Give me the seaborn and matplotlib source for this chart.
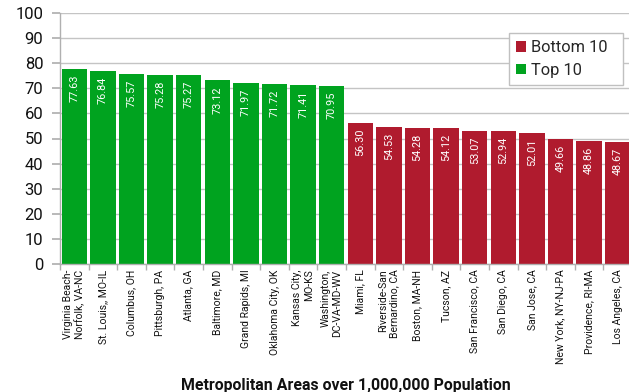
import matplotlib
matplotlib.use("Agg")
import matplotlib.pyplot as plt
import seaborn as sns
import pandas as pd
import numpy as np

# Metro areas ranked by score
metros = [
    "Virginia Beach-\nNorfolk, VA-NC", "St. Louis,, MO-IL", "Columbus, OH",
    "Pittsburgh, PA", "Atlanta, GA", "Baltimore, MD", "Grand Rapids, MI",
    "Oklahoma City, OK", "Kansas City,\nMO-KS", "Washington,\nDC-VA-MD-WV",
    "Miami, FL", "Riverside-San\nBernardino, CA", "Boston, MA-NH", "Tucson, AZ",
    "San Francisco, CA", "San Diego, CA", "San Jose, CA", "New York, NY-NJ-PA",
    "Providence, RI-MA", "Los Angeles, CA",
]
scores = [77.63, 76.84, 75.57, 75.28, 75.27, 73.12, 71.97, 71.72, 71.41, 70.95,
          56.30, 54.53, 54.28, 54.12, 53.07, 52.94, 52.01, 49.66, 48.86, 48.67]
groups = ["Top 10"] * 10 + ["Bottom 10"] * 10
group_order = ["Bottom 10", "Top 10"]
group_colors = ["#b01b2e", "#00a31f"]
y_ticks = list(range(0, 101, 10))

df = pd.DataFrame({"metro": metros, "score": scores, "group": groups})

sns.set_theme(style="white")
plt.rcParams["font.family"] = ["Roboto", "DejaVu Sans"]

fig = plt.figure(figsize=(6.29, 3.92), dpi=100)
ax = fig.add_axes([60 / 629, 1 - 264 / 392, 572 / 629, 251 / 392])

sns.barplot(data=df, x="metro", y="score", hue="group", hue_order=group_order,
            palette=group_colors, dodge=False, width=0.89, saturation=1,
            linewidth=0, ax=ax)

for i, v in enumerate(scores):
    ax.annotate(f"{v:.2f}", xy=(i, v), xytext=(0, -4), textcoords="offset points",
                rotation=90, ha="center", va="top", color="white", fontsize=7.8)

ax.set_ylim(0, 100)
ax.set_yticks(y_ticks)
ax.set_xlim(-0.5, len(metros) - 0.5)
ax.yaxis.grid(True, color="#c4c4c4", linewidth=1)
ax.set_axisbelow(True)
ax.tick_params(axis="y", left=True, length=6, color="#b0b0b0", labelsize=12,
               pad=6, labelcolor="#111111")
ax.tick_params(axis="x", which="major", bottom=False, length=0, pad=4)
ax.set_xticks(np.arange(len(metros) + 1) - 0.5, minor=True)
ax.tick_params(axis="x", which="minor", bottom=True, length=4, color="#b0b0b0")
for lbl in ax.get_xticklabels():
    lbl.set_rotation(90)
    lbl.set_fontsize(7.5)
    lbl.set_ha("center")
    lbl.set_va("top")
    lbl.set_multialignment("right")
    lbl.set_color("#111111")

for s in ["top", "right"]:
    ax.spines[s].set_visible(False)
for s in ["left", "bottom"]:
    ax.spines[s].set_color("#b0b0b0")
    ax.spines[s].set_linewidth(1)

ax.set_ylabel("")
ax.set_xlabel("Metropolitan Areas over 1,000,000 Population", fontsize=11.4,
              fontweight="bold", color="#111111", labelpad=10)

leg = ax.legend(loc="upper right", bbox_to_anchor=(0.984, 0.920), fontsize=11.8,
                frameon=True, fancybox=False, framealpha=1, edgecolor="#c0c0c0",
                handlelength=0.6, handleheight=0.6, handletextpad=0.3,
                borderpad=0.45, borderaxespad=0, labelspacing=0.45, title=None)
leg.get_frame().set_linewidth(1)
# widen the box a bit on the left and right
for t in leg.get_texts():
    t.set_text(t.get_text() + "  ")
leg._legend_box.align = "left"
leg.set_bbox_to_anchor((0.984, 0.920), transform=ax.transAxes)

fig.savefig("out.png", dpi=100)
